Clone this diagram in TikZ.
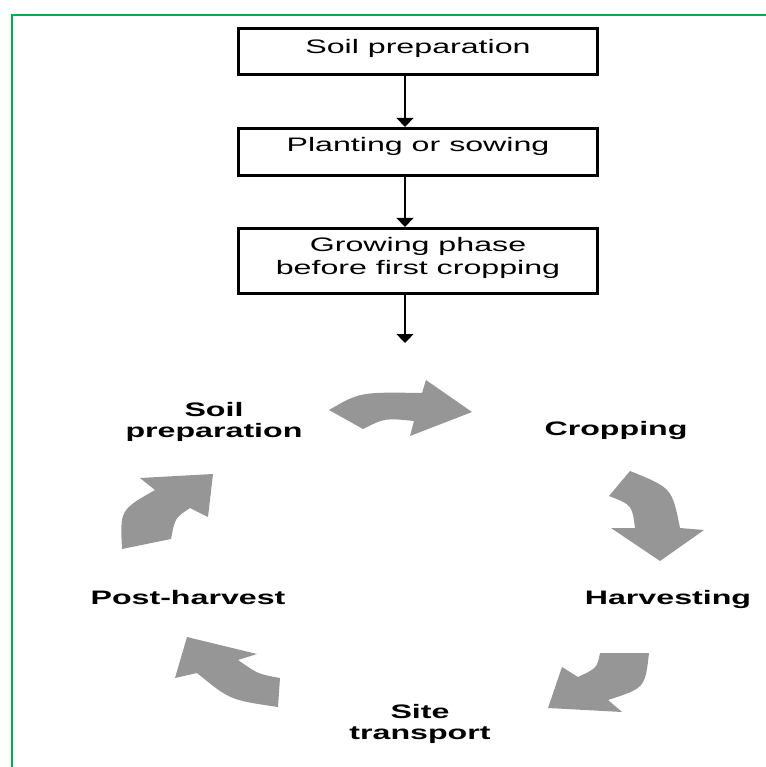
\documentclass[tikz,border=0pt]{standalone}
\usepackage{fontspec}
\setmainfont{Liberation Sans}[FakeStretch=1.65]
\usetikzlibrary{arrows.meta,calc}
\definecolor{framegreen}{RGB}{0,176,80}
\definecolor{arrowgray}{RGB}{150,150,150}
\begin{document}
\begin{tikzpicture}[x=1pt,y=-1pt,
  stepbox/.style={draw=black, line width=2.6pt, minimum width=359pt, inner sep=0pt, fill=white},
  boxtext/.style={font=\fontsize{19.5}{23.3}\selectfont, align=center, inner sep=0pt},
  lbl/.style={font=\fontsize{19.5}{21}\selectfont\bfseries, align=center, inner sep=0pt},
  conn/.style={draw=black, line width=1.1pt, -{Triangle[width=17pt,length=9pt]}},
  cyc/.style={fill=arrowgray, draw=none}]
\useasboundingbox (0,0) rectangle (765,767);
% frame
\draw[framegreen, line width=2.4pt] (12,775) -- (12,15) -- (775,15);
% boxes
\node[stepbox, minimum height=46.5pt] (b1) at (418,51.5) {};
\node[stepbox, minimum height=47.5pt] (b2) at (418,152) {};
\node[stepbox, minimum height=65.5pt] (b3) at (418,261) {};
\node[boxtext, anchor=base] (t1) at (418,53.3) {Soil preparation};
\node[boxtext, anchor=base] (t2) at (418,151.7) {Planting or sowing};
\node[boxtext] (t3) at (418,258.3) {Growing phase\\before first cropping};
% connectors
\coordinate (ax) at (405,0);
\coordinate (endp) at (405,343);
\draw[conn] (b1.south -| ax) -- (b2.north -| ax);
\draw[conn] (b2.south -| ax) -- (b3.north -| ax);
\draw[conn] (b3.south -| ax) -- (endp);
% cycle labels
\node[lbl] (sp) at (214,421.7) {Soil\\preparation};
\node[lbl, anchor=base] (cr) at (616,435) {Cropping};
\node[lbl, anchor=base] (hv) at (668,604) {Harvesting};
\node[lbl] (st) at (420,723.5) {Site\\transport};
\node[lbl, anchor=base] (ph) at (188,604) {Post-harvest};
% cycle arrows
\fill[cyc] (329,410) .. controls (360,392) .. (422,393) -- (426,380) -- (472,412) -- (410,436) -- (414,421) .. controls (385,418) .. (363,429) -- cycle;
\fill[cyc] (630,471) .. controls (672,488) .. (680,528) -- (704,530) -- (660,561) -- (611,528) -- (635,528) .. controls (632,505) .. (609,496) -- cycle;
\fill[cyc] (600,653) -- (649,653) .. controls (645,688) .. (608,700) -- (622,712) -- (548,708) -- (562,667) -- (578,677) .. controls (597,668) .. (600,653) -- cycle;
\fill[cyc] (280,678) -- (278,707) .. controls (230,700) .. (197,673) -- (175,678) -- (187,637) -- (257,654) -- (238,660) .. controls (258,674) .. (280,678) -- cycle;
\fill[cyc] (122,549) .. controls (120,510) .. (155,490) -- (140,478) -- (213,474) -- (208,517) -- (190,508) .. controls (175,518) .. (171,539) -- cycle;
\end{tikzpicture}
\end{document}
